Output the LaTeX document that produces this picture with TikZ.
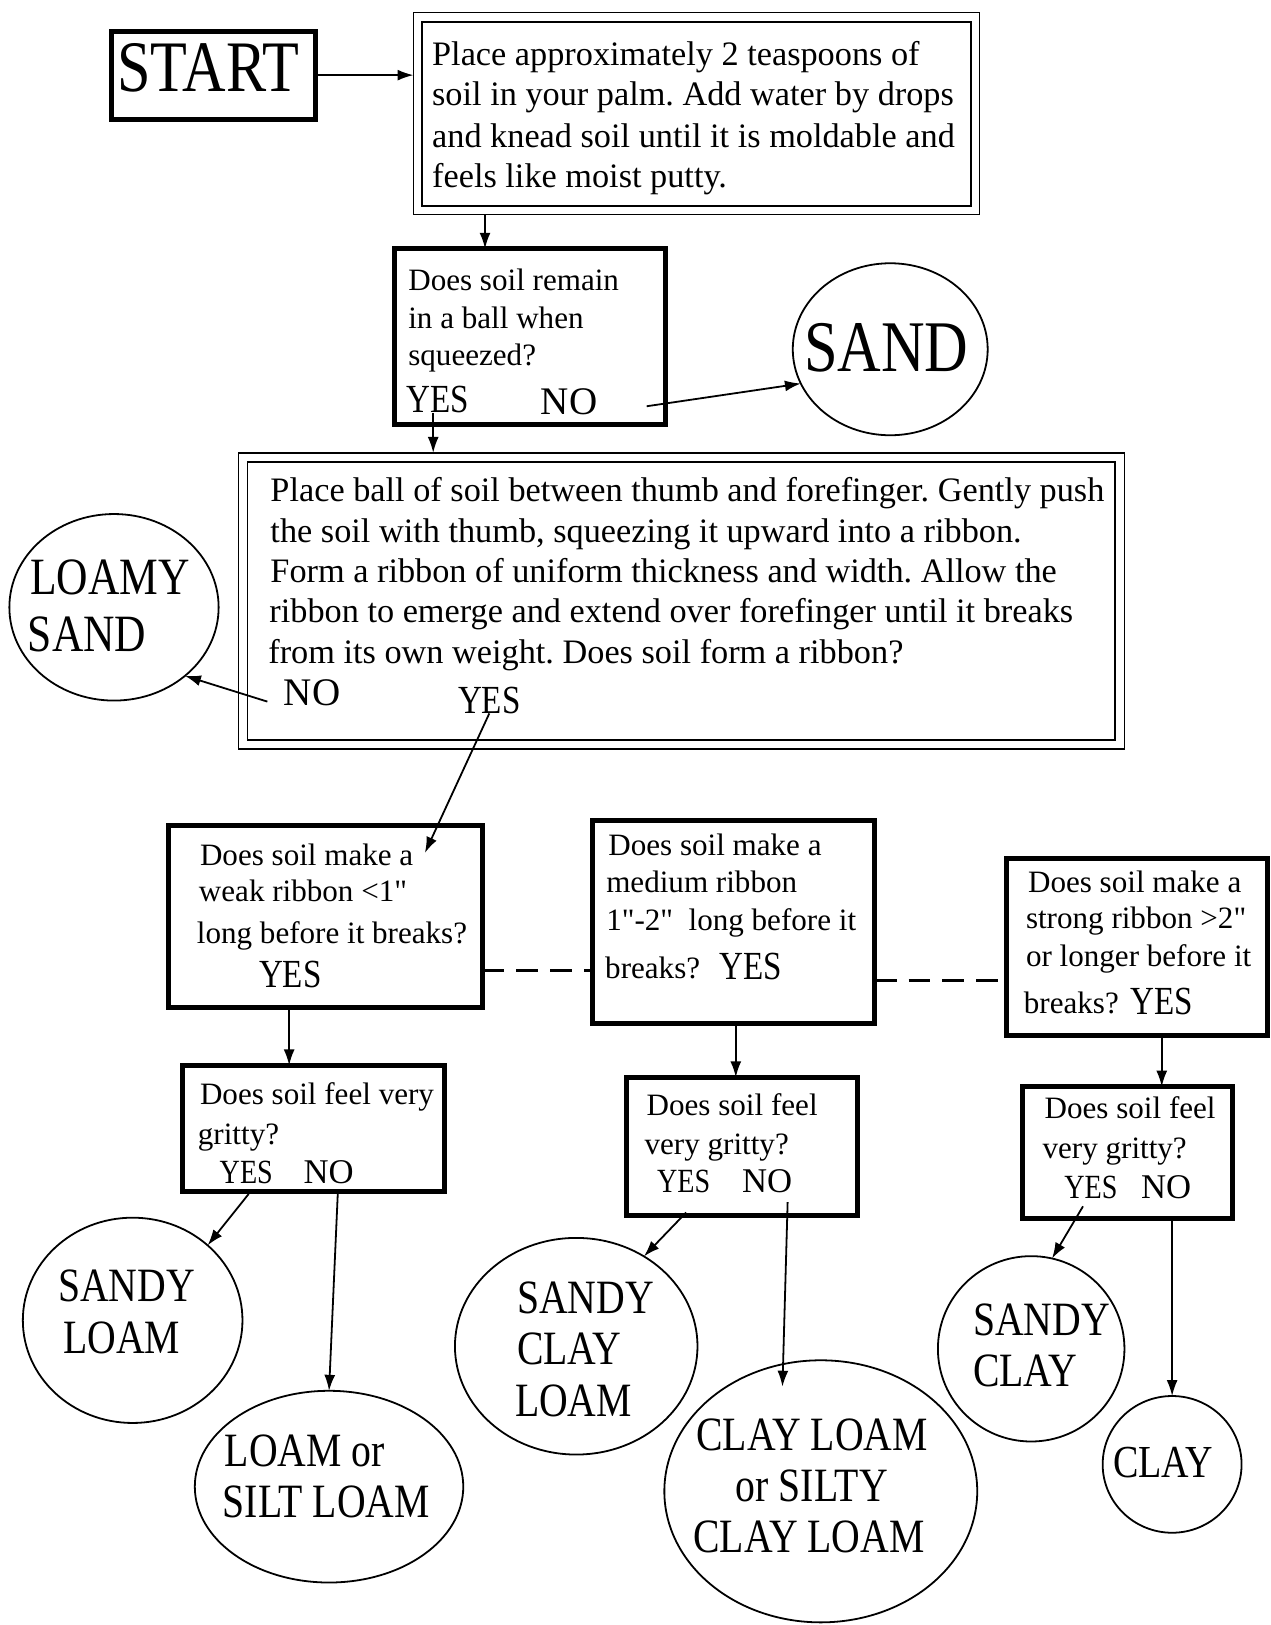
\documentclass[tikz,border=0pt]{standalone}
\usepackage{fontspec}
\setmainfont{Liberation Serif}[Ligatures=TeXOff]
\newfontfamily\capfont{Liberation Serif}[FakeStretch=0.83,Ligatures=TeXOff]
\usetikzlibrary{arrows.meta,fit,shapes.geometric}
\frenchspacing
\begin{document}
\begin{tikzpicture}[x=0.52pt,y=-0.52pt,
  every node/.style={inner sep=0pt,outer sep=0pt},
  tbox/.style={draw,line width=2.5pt,rectangle,fit={#1}},
  tline/.style={draw,line width=0.8pt,rectangle,fit={#1}},
  ell/.style 2 args={draw,ellipse,line width=0.9pt,minimum width=#1,minimum height=#2},
  body/.style={anchor=base west,font=\fontsize{17.2pt}{20pt}\selectfont},
  qt/.style={anchor=base west,font=\fontsize{15.6pt}{19pt}\selectfont},
  yes/.style={anchor=base west,font=\capfont\fontsize{20pt}{24pt}\selectfont},
  no/.style={anchor=base west,font=\fontsize{19.6pt}{24pt}\selectfont},
  yess/.style={anchor=base west,font=\capfont\fontsize{17pt}{20pt}\selectfont},
  nos/.style={anchor=base west,font=\fontsize{17.4pt}{20pt}\selectfont},
  lab/.style={anchor=base west,font=\capfont\fontsize{24pt}{29pt}\selectfont},
  arr/.style={draw,line width=0.9pt,-{Latex[length=8pt,width=5.5pt]}},
  dsh/.style={draw,line width=1.5pt,dash pattern=on 11pt off 6pt}
]
\useasboundingbox (0,0) rectangle (1226,1568);

% ---------- START ----------
\node[tbox={(107.5,30) (304,115)}] (start) {};
\node[anchor=base west,font=\capfont\fontsize{36.4pt}{40pt}\selectfont] (tstart) at (113,88) {START};

% ---------- step 1 ----------
\node[tline={(399,12) (945,207)}] (b1o) {};
\node[tline={(407,21) (937,199)}] (b1i) {};
\node[body] (t1a) at (417,63) {Place approximately 2 teaspoons of};
\node[body] (t1b) at (417,102) {soil in your palm. Add water by drops};
\node[body] (t1c) at (417,142) {and knead soil until it is moldable and};
\node[body] (t1d) at (417,181) {feels like moist putty.};

% ---------- question ball ----------
\node[tbox={(381,240) (642.5,410)}] (q1) {};
\node[qt] (q1a) at (394,280) {Does soil remain};
\node[qt] (q1b) at (394,317) {in a ball when};
\node[qt] (q1c) at (394,353) {squeezed?};
\node[yes] (yesA) at (392,398) {YES};
\node[no] (noA) at (522,400) {NO};

\node[ell={97.8pt}{86.3pt}] (sand) at (859,337) {};
\node[anchor=base west,font=\capfont\fontsize{36.5pt}{40pt}\selectfont] (tsand) at (776,358) {SAND};

% ---------- ribbon step ----------
\node[tline={(230,437) (1085,723)}] (b3o) {};
\node[tline={(239,446) (1076,714)}] (b3i) {};
\node[body] (t3a) at (261,484) {Place ball of soil between thumb and forefinger. Gently push};
\node[body] (t3b) at (261,523) {the soil with thumb, squeezing it upward into a ribbon.};
\node[body] (t3c) at (261,562) {Form a ribbon of uniform thickness and width. Allow the};
\node[body] (t3d) at (260,601) {ribbon to emerge and extend over forefinger until it breaks};
\node[body] (t3e) at (259,640) {from its own weight. Does soil form a ribbon?};
\node[no] (noB) at (274,681) {NO};
\node[yes] (yesB) at (442,688) {YES};

\node[ell={105pt}{93.6pt}] (lsand) at (110,586) {};
\node[anchor=base west,font=\capfont\fontsize{26.3pt}{30pt}\selectfont] (tls1) at (29,574) {LOAMY};
\node[anchor=base west,font=\capfont\fontsize{26.3pt}{30pt}\selectfont] (tls2) at (27,629) {SAND};

% ---------- ribbon length ----------
\node[tbox={(163,797) (465.5,972.5)}] (weak) {};
\node[qt] (wa) at (193,835) {Does soil make a};
\node[qt] (wb) at (192,870) {weak ribbon <1"};
\node[qt] (wc) at (190,910) {long before it breaks?};
\node[yes] (yesW) at (250,953) {YES};

\node[tbox={(572,791.5) (844,987.5)}] (medium) {};
\node[qt] (ma) at (587,825) {Does soil make a};
\node[qt] (mb) at (585,861) {medium ribbon};
\node[qt] (mc) at (585,898) {1"-2"\ \ long before it};
\node[qt] (md) at (584,944) {breaks?};
\node[yes] (yesM) at (694,945) {YES};

\node[tbox={(971.5,828.5) (1223,999.5)}] (strong) {};
\node[qt] (sa) at (992,861) {Does soil make a};
\node[qt] (sb) at (990,896) {strong ribbon >2"};
\node[qt] (sc1) at (990,933) {or longer before it};
\node[qt] (sd) at (988,978) {breaks?};
\node[yes] (yesS) at (1091,979) {YES};

% ---------- grittiness ----------
\node[tbox={(176,1028) (429,1149.5)}] (g1) {};
\node[qt] (g1a) at (193,1066) {Does soil feel very};
\node[qt] (g1b) at (191,1104) {gritty?};
\node[yess] (yesG1) at (212,1142) {YES};
\node[nos] (noG1) at (293,1142) {NO};

\node[tbox={(604.5,1039.5) (827,1172.5)}] (g2) {};
\node[qt] (g2a) at (624,1076) {Does soil feel};
\node[qt] (g2b) at (622,1114) {very gritty?};
\node[yess] (yesG2) at (634,1151) {YES};
\node[nos] (noG2) at (716,1151) {NO};

\node[tbox={(987,1048.5) (1189.5,1175.5)}] (g3) {};
\node[qt] (g3a) at (1008,1079) {Does soil feel};
\node[qt] (g3b) at (1006,1118) {very gritty?};
\node[yess] (yesG3) at (1027,1156) {YES};
\node[nos] (noG3) at (1101,1156) {NO};

% ---------- results ----------
\node[ell={110.2pt}{103pt}] (sloam) at (128,1274) {};
\node[lab] (tsl1) at (56,1256) {SANDY};
\node[lab] (tsl2) at (61,1306) {LOAM};

\node[ell={134.7pt}{96.2pt}] (silt) at (317.5,1434.5) {};
\node[lab] (tsi1) at (217,1415) {LOAM or};
\node[lab] (tsi2) at (215,1464) {SILT LOAM};

\node[ell={121.7pt}{108.7pt}] (scl) at (556,1299) {};
\node[lab] (tscl1) at (499,1267) {SANDY};
\node[lab] (tscl2) at (499,1317) {CLAY};
\node[lab] (tscl3) at (497,1367) {LOAM};

\node[ell={157pt}{131.5pt}] (cl) at (792,1439) {};
\node[lab] (tcl1) at (672,1400) {CLAY LOAM};
\node[lab] (tcl2) at (710,1449) {or SILTY};
\node[lab] (tcl3) at (669,1498) {CLAY LOAM};

\node[ell={93.6pt}{93pt}] (sc) at (995,1301.5) {};
\node[lab] (tsc1) at (939,1289) {SANDY};
\node[lab] (tsc2) at (939,1338) {CLAY};

\node[ell={69.7pt}{68.6pt}] (clay) at (1131,1413) {};
\node[anchor=base west,font=\capfont\fontsize{23pt}{26pt}\selectfont] (tclay) at (1074,1426) {CLAY};

% ---------- helper coordinates ----------
\coordinate (c12) at (468,0);
\coordinate (c23) at (418,0);
\coordinate (nosand) at (624,392);
\coordinate (nols) at (258,677);
\coordinate (wtip) at (410,823);
\coordinate (cw) at (279,0);
\coordinate (cm) at (710,0);
\coordinate (cs) at (1121,0);
\coordinate (dA) at (0,936);
\coordinate (dB) at (0,946);
\coordinate (y1s) at (240,1152);
\coordinate (n1s) at (326,1150);
\coordinate (y2s) at (662,1170);
\coordinate (n2s) at (760,1160);
\coordinate (n2e) at (755,1338);
\coordinate (y3s) at (1045,1164);

% ---------- connectors ----------
\draw[arr] (start.east) -- (start.east -| b1o.west);
\draw[arr] (b1o.south -| c12) -- (q1.north -| c12);
\draw[arr] (yesA.south -| c23) -- (b3o.north -| c23);
\draw[arr] (nosand) -- (sand.201);
\draw[arr] (nols) -- (lsand.-44);
\draw[arr] (yesB.south) -- (wtip);
\draw[dsh] (weak.east |- dA) -- (medium.west |- dA);
\draw[dsh] (medium.east |- dB) -- (strong.west |- dB);
\draw[arr] (weak.south -| cw) -- (g1.north -| cw);
\draw[arr] (medium.south -| cm) -- (g2.north -| cm);
\draw[arr] (strong.south -| cs) -- (g3.north -| cs);
\draw[arr] (y1s) -- (sloam.45);
\draw[arr] (n1s) -- (silt.north);
\draw[arr] (y2s) -- (scl.53);
\draw[arr] (n2s) -- (n2e);
\draw[arr] (y3s) -- (sc.77);
\draw[arr] (g3.south -| clay.north) -- (clay.north);
\end{tikzpicture}
\end{document}
